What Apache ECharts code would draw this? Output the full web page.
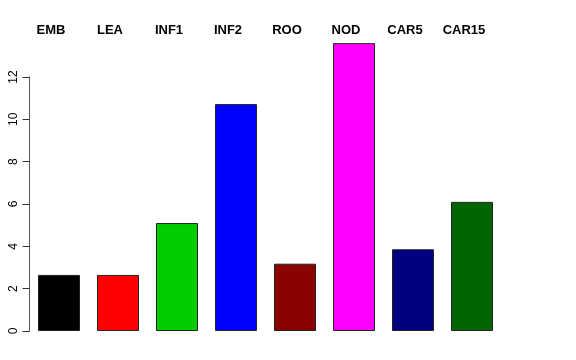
<!DOCTYPE html>
<html><head><meta charset="utf-8">
<script src="https://cdn.jsdelivr.net/npm/echarts@6/dist/echarts.min.js"></script>
<style>html,body{margin:0;padding:0;background:#fff}#c{width:576px;height:360px}</style>
</head><body><div id="c"></div>
<script>
var categories = ['EMB','LEA','INF1','INF2','ROO','NOD','CAR5','CAR15'];
var values = [2.65, 2.65, 5.1, 10.72, 3.18, 13.6, 3.86, 6.1];
var colors = ['#000000','#FF0000','#00CD00','#0000FF','#8B0000','#FF00FF','#000080','#006400'];
var yTicks = [0, 2, 4, 6, 8, 10, 12];

var chart = echarts.init(document.getElementById('c'));
chart.setOption({
  animation: false,
  backgroundColor: '#ffffff',
  grid: {left: 29.5, right: 74.5, top: 77, bottom: 29},
  xAxis: {
    type: 'category', data: categories, position: 'top',
    axisLine: {show: false}, axisTick: {show: false},
    axisLabel: {fontFamily: 'Liberation Sans', fontWeight: 'bold', fontSize: 13, color: '#000',
      margin: 40, padding: [0, 16, 0, 0]}
  },
  yAxis: {
    type: 'value', min: 0, max: 12, interval: 2,
    splitLine: {show: false},
    axisLine: {show: true, lineStyle: {color: '#555', width: 1}},
    axisTick: {show: true, length: 7, lineStyle: {color: '#333'}},
    axisLabel: {rotate: 90, fontFamily: 'Liberation Sans', fontSize: 12, color: '#000', margin: 10,
      formatter: function(v){ return yTicks.indexOf(v) >= 0 ? String(v) : ''; }}
  },
  series: [{
    type: 'bar', clip: false, barWidth: 42,
    data: values.map(function(v, i){ return {value: v, itemStyle: {color: colors[i]}}; }),
    itemStyle: {borderColor: '#222', borderWidth: 1}
  }]
});
</script></body></html>
